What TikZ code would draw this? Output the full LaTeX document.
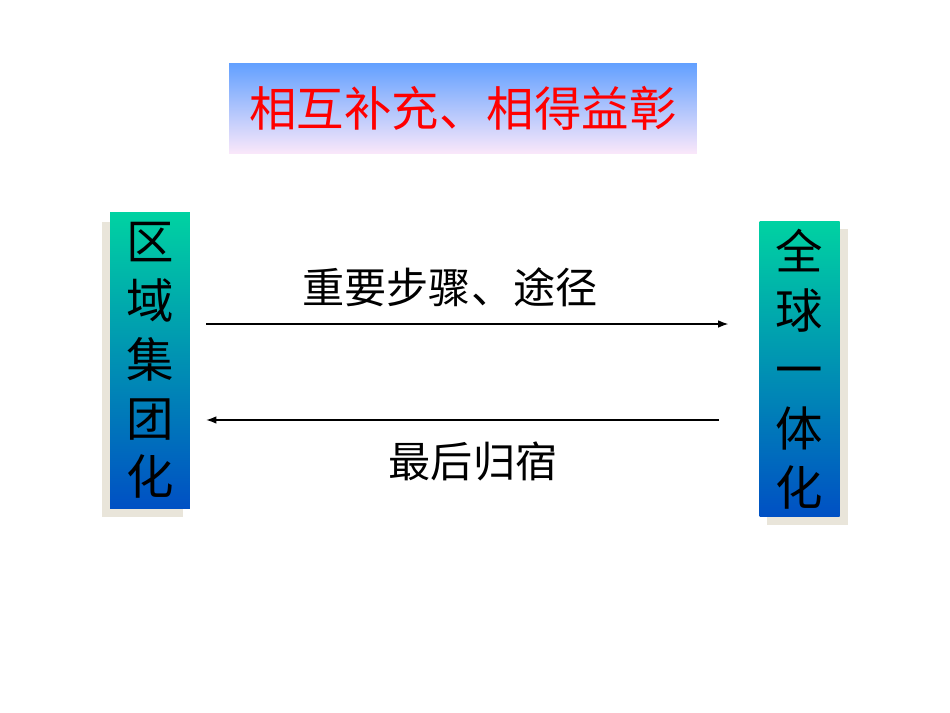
\documentclass[tikz,border=0pt]{standalone}
\usepackage{fontspec}
\setmainfont{Noto Sans CJK SC}
\usepackage{tikz}
\usetikzlibrary{arrows.meta, positioning, shadows}

\definecolor{titletop}{HTML}{62A0FF}
\definecolor{titlebottom}{HTML}{FBE8FA}
\definecolor{boxtop}{HTML}{00D2A2}
\definecolor{boxbottom}{HTML}{0050C4}
\definecolor{shadowbeige}{HTML}{E9E5DA}

\begin{document}
\begin{tikzpicture}[
	x=0.02cm, y=-0.02cm,
	banner/.style={rectangle, inner sep=0pt, minimum width=9.36cm, minimum height=1.82cm,
		top color=titletop, bottom color=titlebottom, font=\fontsize{27}{32}\selectfont, text=red},
	column/.style={rectangle, inner sep=0pt, minimum width=1.6cm, minimum height=5.92cm,
		top color=boxtop, bottom color=boxbottom, align=center,
		font=\fontsize{27}{33.5}\selectfont},
	flow_label/.style={font=\fontsize{24}{28}\selectfont},
	flow/.style={line width=0.6pt, -{Latex[length=2mm, width=1.5mm]}}
	]
	
	\useasboundingbox (0,0) rectangle (950,713);
	
	% --- titulo ---
	\node[banner] (title) at (463,108.5) {相互补充、相得益彰};
	
	% --- colunas com sombra ---
	\fill[shadowbeige] (102,222) rectangle (183,517);
	\node[column] (regional) at (150,360.5) {区\\域\\集\\团\\化};
	\fill[shadowbeige] (767,229) rectangle (848,525);
	\node[column] (global) at (799.5,369) {全\\球\\一\\体\\化};
	
	% --- setas e rotulos ---
	\draw[flow, shorten <=0.32cm, shorten >=0.62cm]
		([yshift=0.73cm]regional.east) -- ([yshift=0.73cm]regional.east -| global.west);
	\draw[flow, shorten <=0.8cm, shorten >=0.32cm]
		([yshift=-1.19cm]regional.east -| global.west) -- ([yshift=-1.19cm]regional.east);
	\node[flow_label] (steps) at (450,287) {重要步骤、途径};
	\node[flow_label] (home) at (473,461) {最后归宿};
	
\end{tikzpicture}
\end{document}
